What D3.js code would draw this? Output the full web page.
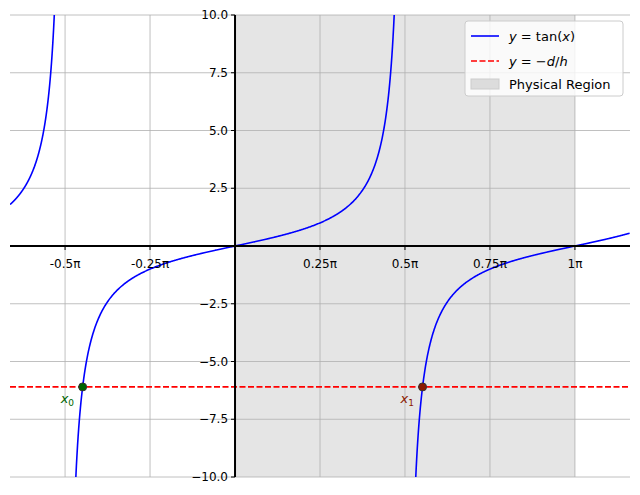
<!DOCTYPE html>
<html><head><meta charset="utf-8">
<script src="https://cdn.jsdelivr.net/npm/d3@7"></script>
<style>body{margin:0;background:#fff}text{font-family:"DejaVu Sans",sans-serif}</style>
</head><body><div class="canvas"></div>
<script>
// tick values (in units of pi) and labels
const xTicks = [-0.5, -0.25, 0.25, 0.5, 0.75, 1];
const xTickLabels = ["-0.5π", "-0.25π", "0.25π", "0.5π", "0.75π", "1π"];
const yTicks = [-10, -7.5, -5, -2.5, 2.5, 5, 7.5, 10];
const lineLevel = -6.1;            // y = -d/h
const physicalRegion = [0, Math.PI];
const branches = [[-0.662 * Math.PI, -Math.PI / 2], [-Math.PI / 2, Math.PI / 2], [Math.PI / 2, 1.162 * Math.PI]];

const W = 640, H = 495;
const x = d3.scaleLinear().domain([-0.662 * Math.PI, 1.162 * Math.PI]).range([10, 630]);
const y = d3.scaleLinear().domain([-10, 10]).range([477, 15]);

const svg = d3.select(".canvas").append("svg").attr("width", W).attr("height", H);
svg.append("defs").append("clipPath").attr("id", "clip")
  .append("rect").attr("x", 10).attr("y", 15).attr("width", 620).attr("height", 462);

// shaded region
svg.append("rect").attr("x", x(physicalRegion[0])).attr("y", y(10))
  .attr("width", x(physicalRegion[1]) - x(physicalRegion[0])).attr("height", y(-10) - y(10))
  .attr("fill", "#e5e5e5");

// grid
const grid = svg.append("g").attr("stroke", "#b0b0b0").attr("stroke-width", 0.8);
xTicks.forEach(t => grid.append("line").attr("x1", x(t * Math.PI)).attr("x2", x(t * Math.PI)).attr("y1", 15).attr("y2", 477));
yTicks.forEach(t => grid.append("line").attr("y1", y(t)).attr("y2", y(t)).attr("x1", 10).attr("x2", 630));

// tan curve
const line = d3.line().x(d => x(d[0])).y(d => y(d[1]));
branches.forEach(([a, b]) => {
  const pts = [];
  const n = 600;
  for (let i = 1; i < n; i++) {
    const t = a + (b - a) * i / n;
    const v = Math.tan(t);
    pts.push([t, Math.max(-40, Math.min(40, v))]);
  }
  if (a < -Math.PI / 2 + 0.01 && a > -Math.PI) {} // nothing
  svg.append("path").datum(pts).attr("d", line).attr("fill", "none")
    .attr("stroke", "blue").attr("stroke-width", 1.6).attr("clip-path", "url(#clip)");
});

// horizontal line
svg.append("line").attr("x1", 10).attr("x2", 630).attr("y1", y(lineLevel)).attr("y2", y(lineLevel))
  .attr("stroke", "red").attr("stroke-width", 1.6).attr("stroke-dasharray", "6,2.5");

// axes spines through origin
svg.append("line").attr("x1", 10).attr("x2", 630).attr("y1", y(0)).attr("y2", y(0)).attr("stroke", "black").attr("stroke-width", 2);
svg.append("line").attr("x1", x(0)).attr("x2", x(0)).attr("y1", 15).attr("y2", 477).attr("stroke", "black").attr("stroke-width", 2);

xTicks.forEach((t, i) => {
  svg.append("line").attr("x1", x(t * Math.PI)).attr("x2", x(t * Math.PI)).attr("y1", y(0)).attr("y2", y(0) + 4).attr("stroke", "black");
  svg.append("text").attr("x", x(t * Math.PI)).attr("y", y(0) + 22).attr("text-anchor", "middle")
    .attr("font-size", 12).text(xTickLabels[i]);
});
yTicks.forEach(t => {
  svg.append("line").attr("x1", x(0) - 4).attr("x2", x(0)).attr("y1", y(t)).attr("y2", y(t)).attr("stroke", "black");
  svg.append("text").attr("x", x(0) - 7).attr("y", y(t) + 4).attr("text-anchor", "end")
    .attr("font-size", 12).text(d3.format(".1f")(t));
});

// roots
const x0 = Math.atan(lineLevel), x1 = Math.PI + Math.atan(lineLevel);
[[x0, "#006400", "0"], [x1, "#8b1a00", "1"]].forEach(([xv, c, s]) => {
  svg.append("circle").attr("cx", x(xv)).attr("cy", y(lineLevel)).attr("r", 4).attr("fill", c).attr("stroke", "#333");
  const t = svg.append("text").attr("x", x(xv) - 22).attr("y", y(lineLevel) + 16).attr("fill", c)
    .attr("font-size", 13).attr("font-style", "italic").text("x");
  t.append("tspan").attr("font-size", 9).attr("dy", 3).attr("font-style", "normal").text(s);
});

// legend
const lg = svg.append("g").attr("transform", "translate(465,21)");
lg.append("rect").attr("width", 158).attr("height", 75).attr("rx", 3).attr("fill", "white").attr("fill-opacity", 0.8).attr("stroke", "#ccc");
lg.append("line").attr("x1", 6).attr("x2", 34).attr("y1", 15).attr("y2", 15).attr("stroke", "blue").attr("stroke-width", 1.6);
lg.append("line").attr("x1", 6).attr("x2", 34).attr("y1", 40).attr("y2", 40).attr("stroke", "red").attr("stroke-width", 1.6).attr("stroke-dasharray", "6,2.5");
lg.append("rect").attr("x", 6).attr("y", 58).attr("width", 28).attr("height", 10).attr("fill", "#dcdcdc").attr("stroke", "#ccc");
const l1 = lg.append("text").attr("x", 44).attr("y", 20).attr("font-size", 13);
l1.append("tspan").attr("font-style", "italic").text("y");
l1.append("tspan").text(" = tan(");
l1.append("tspan").attr("font-style", "italic").text("x");
l1.append("tspan").text(")");
const l2 = lg.append("text").attr("x", 44).attr("y", 45).attr("font-size", 13);
l2.append("tspan").attr("font-style", "italic").text("y");
l2.append("tspan").text(" = −");
l2.append("tspan").attr("font-style", "italic").text("d");
l2.append("tspan").text("/");
l2.append("tspan").attr("font-style", "italic").text("h");
lg.append("text").attr("x", 44).attr("y", 68).attr("font-size", 13).text("Physical Region");
</script></body></html>
